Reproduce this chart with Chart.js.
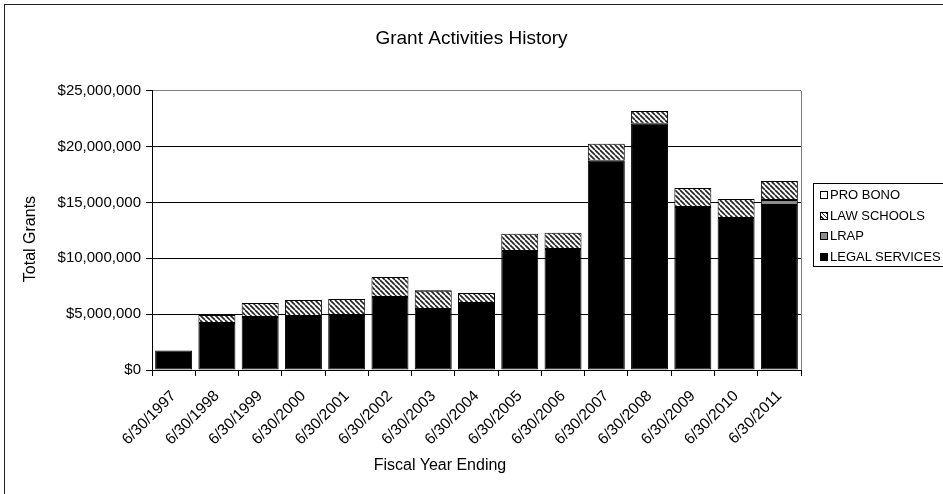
<!DOCTYPE html>
<html>
<head>
<meta charset="utf-8">
<script src="https://cdn.jsdelivr.net/npm/chart.js"></script>
<style>
  html, body { margin: 0; padding: 0; background: #fff; overflow: hidden; }
  #wrap { position: relative; width: 943px; height: 494px; overflow: hidden; font-family: "Liberation Sans", Arial, sans-serif; color: #000; }
  #frame { position: absolute; left: 4px; top: 4px; width: 1000px; height: 1000px; border: 1px solid #222; box-sizing: border-box; pointer-events: none; }
  #legend { position: absolute; left: 813px; top: 183px; width: 140px; height: 84px; border: 1px solid #000; box-sizing: border-box; background: #fff; font-size: 13px; }
  .item { position: absolute; left: 6px; height: 14px; line-height: 14px; white-space: nowrap; }
  .sw { display: inline-block; width: 6px; height: 6px; border: 1px solid #000; vertical-align: 0px; margin-right: 2px; }
  #xtitle { position: absolute; left: 240px; width: 400px; top: 456px; text-align: center; font-size: 16px; line-height: 18px; white-space: nowrap; }
  #ytitle { position: absolute; left: 30px; top: 239px; width: 200px; height: 18px; line-height: 18px; margin-left: -100px; margin-top: -9px; text-align: center; font-size: 16px; transform: rotate(-90deg); white-space: nowrap; }
</style>
</head>
<body>
<div id="wrap">
  <canvas id="c" width="943" height="494"></canvas>
  <div id="frame"></div>
  <div id="xtitle">Fiscal Year Ending</div>
  <div id="ytitle">Total Grants</div>
  <div id="legend"></div>
</div>
<script>
const categories = ["6/30/1997","6/30/1998","6/30/1999","6/30/2000","6/30/2001","6/30/2002","6/30/2003","6/30/2004","6/30/2005","6/30/2006","6/30/2007","6/30/2008","6/30/2009","6/30/2010","6/30/2011"];
const legalServices = [1750000, 4200000, 4750000, 4840000, 4930000, 6540000, 5470000, 6000000, 10660000, 10840000, 18730000, 22040000, 14600000, 13600000, 14780000];
const lrap = [null, null, null, null, null, null, null, null, null, null, null, null, null, null, 450000];
const lawSchools = [null, 730000, 1250000, 1430000, 1430000, 1790000, 1620000, 900000, 1530000, 1440000, 1520000, 1160000, 1700000, 1720000, 1700000];
const proBono = [null, null, null, null, null, null, 80000, null, null, null, null, null, null, null, null];
const yTicks = [0, 5000000, 10000000, 15000000, 20000000, 25000000];
const seriesNames = ["LEGAL SERVICES", "LRAP", "LAW SCHOOLS", "PRO BONO"];

function makeHatch() {
  const p = document.createElement('canvas');
  p.width = 5; p.height = 5;
  const g = p.getContext('2d');
  g.fillStyle = '#fff'; g.fillRect(0, 0, 5, 5);
  g.strokeStyle = '#222'; g.lineWidth = 1.6;
  for (let o = -5; o <= 5; o += 5) {
    g.beginPath(); g.moveTo(o, 0); g.lineTo(o + 5, 5); g.stroke();
  }
  return g.createPattern(p, 'repeat');
}
const ctx = document.getElementById('c').getContext('2d');
const hatch = makeHatch();
const fills = ['#000000', '#8c8c8c', hatch, '#ffffff'];

const FONT = '"Liberation Sans", Arial, sans-serif';

const plotBorder = {
  id: 'plotBorder',
  afterDatasetsDraw(chart) {
    const a = chart.chartArea, c = chart.ctx;
    c.save();
    c.strokeStyle = '#808080'; c.lineWidth = 1;
    c.beginPath();
    c.moveTo(a.right + 0.5, a.top); c.lineTo(a.right + 0.5, a.bottom);
    c.stroke();
    c.restore();
  }
};

const datasets = [legalServices, lrap, lawSchools, proBono].map((d, i) => ({
  label: seriesNames[i],
  data: d,
  backgroundColor: fills[i],
  borderColor: '#000',
  borderWidth: 1,
  borderSkipped: false,
  barPercentage: 0.855,
  categoryPercentage: 1.0
}));

new Chart(ctx, {
  type: 'bar',
  data: { labels: categories, datasets },
  plugins: [plotBorder],
  options: {
    responsive: false,
    animation: false,
    devicePixelRatio: 1,
    layout: { padding: 0 },
    plugins: {
      legend: { display: false },
      tooltip: { enabled: false },
      title: {
        display: true,
        text: 'Grant Activities History',
        color: '#000',
        font: { family: FONT, size: 19, weight: 'normal' },
        padding: { top: 27, bottom: 41 }
      }
    },
    scales: {
      x: {
        stacked: true,
        grid: { display: true, drawOnChartArea: false, drawTicks: true, tickLength: 6, color: '#000', offset: true },
        border: { display: true, color: '#000', width: 1 },
        ticks: { color: '#000', font: { family: FONT, size: 15.5 }, minRotation: 45, maxRotation: 45, autoSkip: false, padding: 11 },
        afterFit(s) { s.height = 124; }
      },
      y: {
        stacked: true,
        min: 0, max: 25000000,
        afterBuildTicks(s) { s.ticks = yTicks.map(v => ({ value: v })); },
        grid: {
          color: (c) => (c.tick && c.tick.value === 25000000) ? '#808080' : '#000',
          tickColor: '#000',
          tickLength: 6,
          drawTicks: true
        },
        border: { display: true, color: '#000', width: 1 },
        ticks: {
          color: '#000', font: { family: FONT, size: 15 }, padding: 5,
          callback: (v) => '$' + Number(v).toLocaleString('en-US')
        },
        afterFit(s) { s.width = 152; }
      },
      yR: {
        type: 'linear',
        position: 'right',
        display: true,
        grid: { display: false, drawOnChartArea: false, drawTicks: false },
        border: { display: false },
        ticks: { display: false },
        afterFit(s) { s.width = 142; }
      }
    }
  }
});

// HTML legend (reverse order, as in the reference)
const lg = document.getElementById('legend');
const order = [3, 2, 1, 0];
order.forEach((idx, row) => {
  const it = document.createElement('div');
  it.className = 'item';
  it.style.top = (4 + row * 20.5) + 'px';
  const sw = document.createElement('span');
  sw.className = 'sw';
  if (idx === 2) {
    sw.style.background = 'repeating-linear-gradient(45deg, #fff 0 1.1px, #222 1.1px 2.2px, #fff 2.2px 3.2px)';
  } else {
    sw.style.background = fills[idx];
  }
  it.appendChild(sw);
  it.appendChild(document.createTextNode(seriesNames[idx]));
  lg.appendChild(it);
});
</script>
</body>
</html>
